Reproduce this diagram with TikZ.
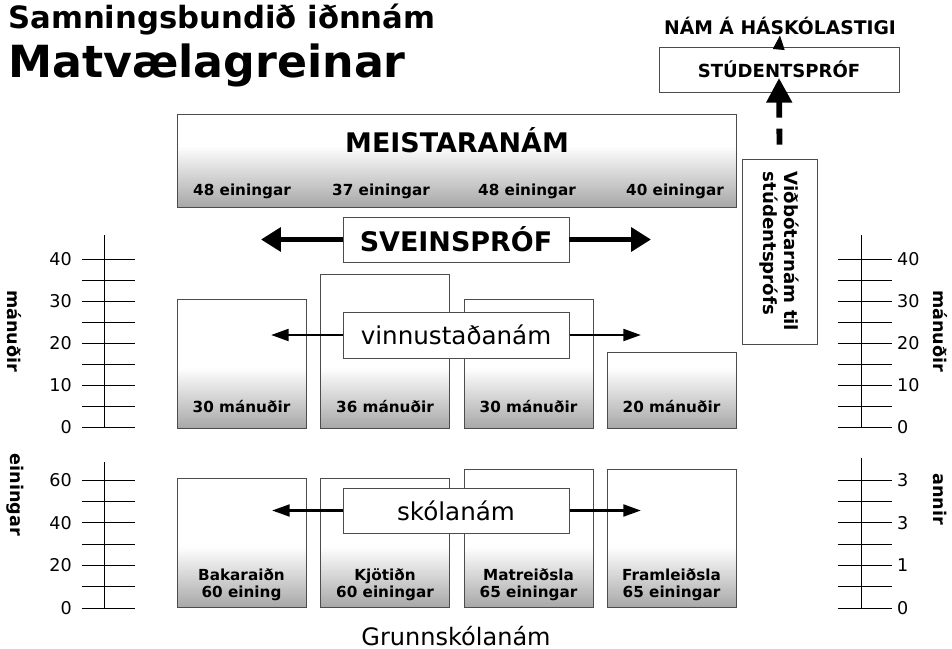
\documentclass[tikz,border=0pt]{standalone}
\usepackage{fontspec}
\setmainfont{DejaVu Sans}
\usepackage{tikz}
\usetikzlibrary{arrows.meta, positioning, calc}

\newcommand{\pxu}{0.03cm}

\begin{document}
\begin{tikzpicture}[
    x=\pxu, y=-\pxu,
    gradbox/.style={draw=black!70, line width=0.7pt, fill=white, inner sep=0pt, minimum width=129*\pxu,
        path picture={\foreach \i in {0,...,39} {
            \pgfmathsetmacro{\shadeval}{34*(1-\i/40)}
            \fill[black!\shadeval] ([yshift=\i*0.045cm]path picture bounding box.south west)
                rectangle ([yshift=(\i+1)*0.045cm+0.01cm]path picture bounding box.south east);
        }}},
    colbox/.style={gradbox, anchor=south, minimum height=#1*\pxu},
    labelbox/.style={draw=black!70, line width=0.7pt, fill=white, inner sep=0pt, minimum width=226*\pxu, minimum height=46*\pxu},
    boxtext/.style={font=\fontsize{13}{14.5}\selectfont\bfseries, align=center, inner sep=0pt},
    fatarrow/.style={-{Triangle[length=17pt, width=20pt]}, line width=4.3pt},
    thinarrow/.style={-{Triangle[length=15pt, width=10pt]}, line width=2.3pt},
    dasharrow/.style={-{Triangle[length=21pt, width=21pt]}, line width=5pt, dash pattern=on 13.7pt off 9.4pt},
    tick/.style={line width=0.8pt},
    axisnum/.style={font=\fontsize{15}{18}\selectfont, inner sep=0pt},
    axistitle/.style={font=\fontsize{15}{18}\selectfont\bfseries, rotate=-90, inner sep=0pt}
]
\useasboundingbox (0,0) rectangle (952,649);

% === TITLE ===
\node[anchor=base west, inner sep=0pt, font=\fontsize{26.2}{31}\selectfont\bfseries] (subtitle) at (8,29) {Samningsbundið iðnnám};
\node[anchor=base west, inner sep=0pt, font=\fontsize{37.8}{44}\selectfont\bfseries] (maintitle) at (8,78) {Matvælagreinar};

% === UNIVERSITY ===
\node[anchor=base, inner sep=0pt, font=\fontsize{16}{19}\selectfont\bfseries] (haskoli) at (780,35) {NÁM Á HÁSKÓLASTIGI};
\node[labelbox, minimum width=240*\pxu, minimum height=45*\pxu, font=\fontsize{15.4}{18}\selectfont\bfseries] (stud) at (779,69.5) {STÚDENTSPRÓF};
\draw[-{Triangle[length=12pt, width=10pt]}, line width=1pt] (stud.north) -- (haskoli.south);

% === MEISTARANAM ===
\node[gradbox, minimum width=559*\pxu, minimum height=93*\pxu] (meistari) at (456.5,160.5) {};
\node[anchor=base, inner sep=0pt, font=\fontsize{23}{28}\selectfont\bfseries] (meistaritxt) at (457,153) {MEISTARANÁM};
\node[boxtext, anchor=base] (m1) at (242,195) {48 einingar};
\node[boxtext, anchor=base] (m2) at (381,195) {37 einingar};
\node[boxtext, anchor=base] (m3) at (527,195) {48 einingar};
\node[boxtext, anchor=base] (m4) at (675,195) {40 einingar};

% === SVEINSPROF ===
\node[labelbox, minimum height=45*\pxu, font=\fontsize{23}{27}\selectfont\bfseries] (svein) at (456,239.5) {SVEINSPRÓF};
\coordinate (sveinL) at (261,239.5);
\coordinate (sveinR) at (651,239.5);
\draw[fatarrow] (svein.west) -- (sveinL);
\draw[fatarrow] (svein.east) -- (sveinR);

% === VIDBOTARNAM ===
\node[draw=black!70, line width=0.7pt, fill=white, minimum width=75*\pxu, minimum height=185*\pxu] (vidbot) at (779.5,251.5) {};
\node[rotate=-90, align=left, inner sep=0pt, font=\fontsize{15.5}{18}\selectfont\bfseries] (vidbottxt) at (vidbot.center) {Viðbótarnám til\\stúdentsprófs};
\draw[dasharrow] ([yshift=0.42cm]vidbot.north) -- ($(stud.center)+(0,8.5)$);

% === VINNUSTADANAM ===
\node[colbox=129] (w1) at (241.5,429) {};
\node[colbox=154] (w2) at (385,429) {};
\node[colbox=129] (w3) at (528.5,429) {};
\node[colbox=76] (w4) at (671.5,429) {};
\node[boxtext, anchor=base] (w1txt) at (w1.south |- 0,412) {30 mánuðir};
\node[boxtext, anchor=base] (w2txt) at (w2.south |- 0,412) {36 mánuðir};
\node[boxtext, anchor=base] (w3txt) at (w3.south |- 0,412) {30 mánuðir};
\node[boxtext, anchor=base] (w4txt) at (w4.south |- 0,412) {20 mánuðir};
\coordinate (vinnuL) at (271,335);
\coordinate (vinnuR) at (641,335);
\node[labelbox] (vinnu) at (456,335) {};
\draw[thinarrow] (vinnu.west) -- (vinnuL);
\draw[thinarrow] (vinnu.east) -- (vinnuR);
\node[labelbox, font=\fontsize{21}{25}\selectfont] (vinnutxt) at (456,335) {vinnustaðanám};

% === SKOLANAM ===
\node[colbox=129] (s1) at (241.5,608) {};
\node[colbox=129] (s2) at (385,608) {};
\node[colbox=138] (s3) at (528.5,608) {};
\node[colbox=138] (s4) at (671.5,608) {};
\node[boxtext, anchor=south] (s1txt) at (s1.south |- 0,601) {Bakaraiðn\\60 eining};
\node[boxtext, anchor=south] (s2txt) at (s2.south |- 0,601) {Kjötiðn\\60 einingar};
\node[boxtext, anchor=south] (s3txt) at (s3.south |- 0,601) {Matreiðsla\\65 einingar};
\node[boxtext, anchor=south] (s4txt) at (s4.south |- 0,601) {Framleiðsla\\65 einingar};
\coordinate (skolaL) at (272,510.5);
\coordinate (skolaR) at (641,510.5);
\node[labelbox, minimum height=45*\pxu] (skola) at (456,510.5) {};
\draw[thinarrow] (skola.west) -- (skolaL);
\draw[thinarrow] (skola.east) -- (skolaR);
\node[labelbox, minimum height=45*\pxu, font=\fontsize{21}{25}\selectfont] (skolatxt) at (456,510.5) {skólanám};
\node[anchor=base, inner sep=0pt, font=\fontsize{20.5}{24}\selectfont] (grunn) at (456,645) {Grunnskólanám};

% === AXES ===
\draw[tick] (104,235) -- (104,427);
\draw[tick] (861,235) -- (861,427);
\foreach \k in {0,...,8} {
    \draw[tick] (82,427-21*\k) -- (135,427-21*\k);
    \draw[tick] (838,427-21*\k) -- (892,427-21*\k);
}
\foreach \v/\k in {0/0, 10/2, 20/4, 30/6, 40/8} {
    \node[axisnum, anchor=east] (lm\v) at (72,427-21*\k) {\v};
    \node[axisnum, anchor=west] (rm\v) at (897,427-21*\k) {\v};
}
\draw[tick] (104,462) -- (104,608);
\draw[tick] (861,458) -- (861,608);
\foreach \k in {0,...,6} {
    \draw[tick] (82,608-21.33*\k) -- (135,608-21.33*\k);
    \draw[tick] (838,608-21.33*\k) -- (892,608-21.33*\k);
}
\foreach \v/\k in {0/0, 20/2, 40/4, 60/6} {
    \node[axisnum, anchor=east] (le\v) at (72,608-21.33*\k) {\v};
}
\foreach \v/\k/\n in {0/0/a, 1/2/b, 3/4/c, 3/6/d} {
    \node[axisnum, anchor=west] (ra\n) at (897,608-21.33*\k) {\v};
}
\node[axistitle] (lmtitle) at (14,331) {mánuðir};
\node[axistitle] (letitle) at (15,495) {einingar};
\node[axistitle] (rmtitle) at (940,331) {mánuðir};
\node[axistitle] (ratitle) at (940,499) {annir};

\end{tikzpicture}
\end{document}
